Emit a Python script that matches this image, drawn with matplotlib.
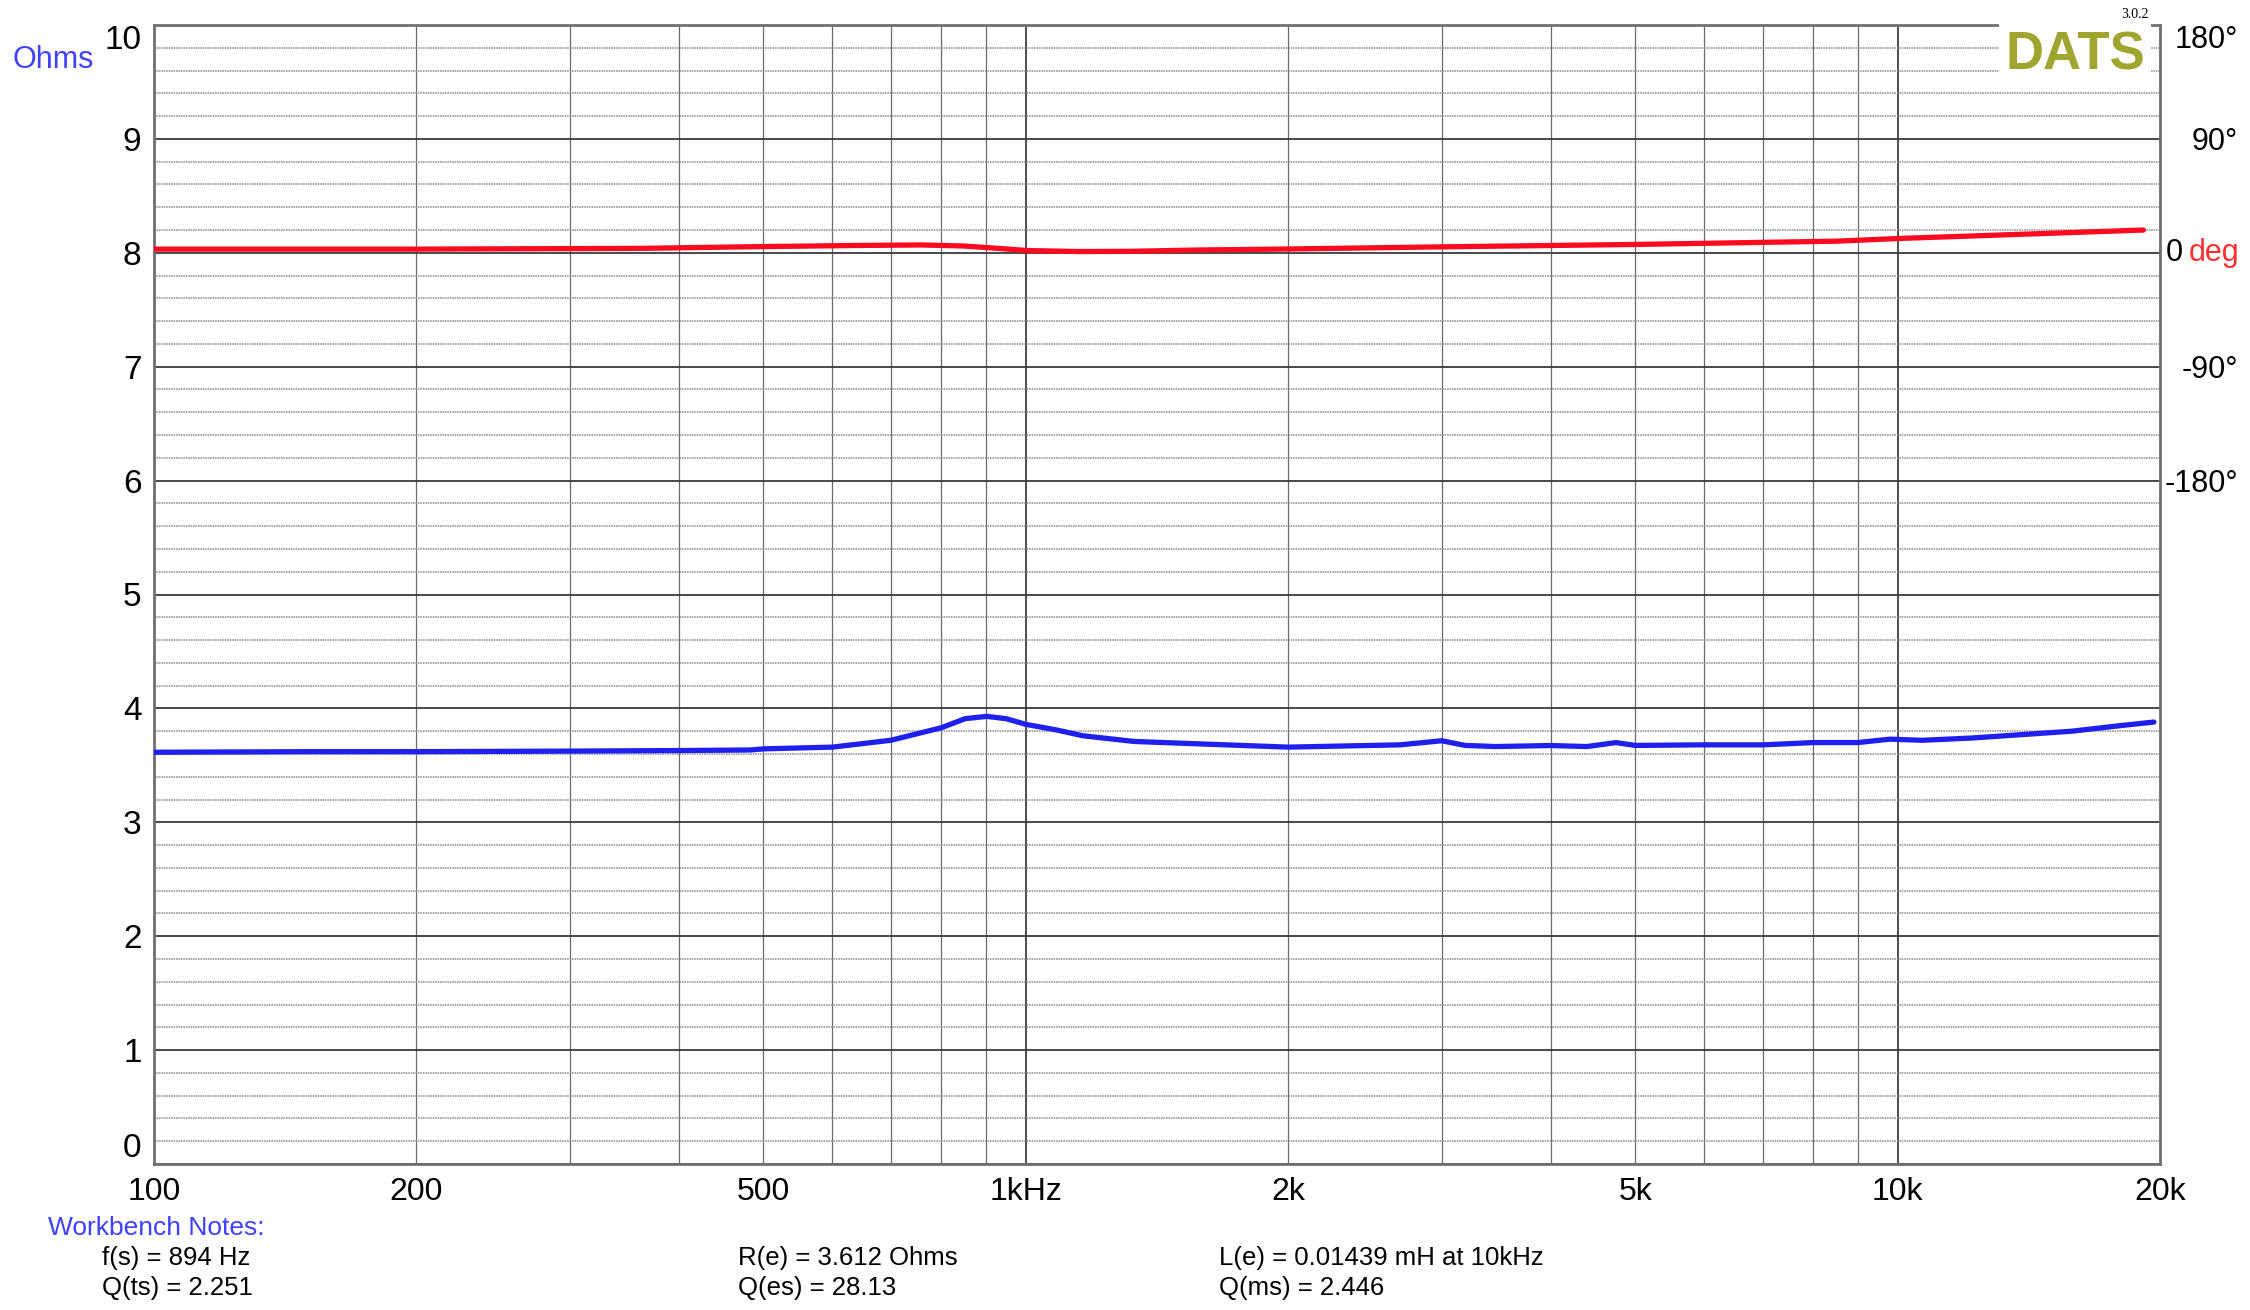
import numpy as np
import matplotlib
matplotlib.use("Agg")
import matplotlib.pyplot as plt
from matplotlib.ticker import FixedLocator, NullFormatter

plt.rcParams['font.family'] = ['Liberation Sans', 'DejaVu Sans']

# impedance magnitude (Ohms)
freq_z = [100, 150, 200, 300, 400, 483, 501, 600, 700, 800, 852, 902, 949, 1000,
          1086, 1162, 1330, 1626, 2000, 2687, 3000, 3190, 3460, 4000, 4400, 4754,
          5000, 5990, 7014, 8000, 9000, 9800, 10670, 12170, 13900, 15850, 18070, 19680]
ohms = [3.615, 3.62, 3.62, 3.625, 3.63, 3.635, 3.645, 3.66, 3.72, 3.83, 3.91, 3.93,
        3.91, 3.86, 3.81, 3.76, 3.71, 3.685, 3.66, 3.68, 3.716, 3.675, 3.665, 3.674,
        3.665, 3.70, 3.675, 3.68, 3.68, 3.70, 3.70, 3.73, 3.72, 3.74, 3.77, 3.80,
        3.85, 3.88]

# impedance phase (degrees)
freq_ph = [100, 200, 362, 486, 642, 759, 847, 912, 1003, 1150, 1323, 1576, 2000,
           3000, 5000, 8520, 10100, 14100, 19140]
phase = [2.9, 2.9, 3.5, 4.8, 5.8, 6.2, 5.4, 3.9, 1.8, 1.0, 1.2, 2.2, 3.0,
         4.7, 6.6, 9.2, 11.4, 14.8, 18.0]

x_major = [100, 200, 500, 1000, 2000, 5000, 10000, 20000]
x_labels = ['100', '200', '500', '1kHz', '2k', '5k', '10k', '20k']
x_grid = [100, 200, 300, 400, 500, 600, 700, 800, 900, 1000, 2000, 3000, 4000,
          5000, 6000, 7000, 8000, 9000, 10000, 20000]
y_labels = [str(i) for i in range(11)]
ph_ticks = [180, 90, -90, -180]
ph_labels = ['180°', '90°', '-90°', '-180°']

notes = [
    ("f(s) = 894 Hz", 102, 1258), ("Q(ts) = 2.251", 102, 1288),
    ("R(e) = 3.612 Ohms", 738, 1258), ("Q(es) = 28.13", 738, 1288),
    ("L(e) = 0.01439 mH at 10kHz", 1219, 1258), ("Q(ms) = 2.446", 1219, 1288),
]

W, H = 2250, 1310
fig = plt.figure(figsize=(22.5, 13.1), dpi=100)
ax = fig.add_axes([154 / W, 1 - 1164 / H, (2160 - 154) / W, (1164 - 25) / H])

ax.set_xscale('log')
ax.set_xlim(100, 20000)
ax.set_ylim(0, 10)

# grid
for f in x_grid:
    dark = f in (1000, 10000)
    ax.axvline(f, color='#404040' if dark else '#6a6a6a', lw=1.3 if dark else 0.9, zorder=1)
for v in np.arange(0, 10.01, 0.2):
    if abs(v - round(v)) < 1e-6:
        ax.axhline(v, color='#3a3a3a', lw=1.3, zorder=1)
    else:
        ax.axhline(v, color='#8a8a8a', lw=1.1, ls=(0, (1, 0.6)), zorder=1)

ax.plot(freq_z, ohms, color='#2020ee', lw=3.8, zorder=4, solid_capstyle='round')

ax.set_xticks(x_major)
ax.set_xticklabels(x_labels, fontsize=23)
ax.xaxis.set_minor_locator(FixedLocator(x_grid))
ax.xaxis.set_minor_formatter(NullFormatter())
ax.set_yticks(range(11))
ax.set_yticklabels(y_labels, fontsize=24)
ax.tick_params(axis='both', which='both', length=0)
ax.tick_params(axis='x', pad=9)
ax.tick_params(axis='y', pad=9)
ax.get_yticklabels()[0].set_va('bottom')
ax.get_yticklabels()[-1].set_va('top')

for s in ax.spines.values():
    s.set_color('#707070')
    s.set_linewidth(2)

# phase axis: 0 deg at 8 Ohms, 90 deg per Ohm
ax2 = ax.twinx()
ax2.set_ylim(-720, 180)
ax2.plot(freq_ph, phase, color='#ff0a1e', lw=3.8, zorder=4, solid_capstyle='round')
ax2.set_yticks(ph_ticks)
ax2.set_yticklabels(ph_labels, fontsize=22, ha='right')
ax2.tick_params(axis='y', length=0, pad=56)
ax2.get_yticklabels()[0].set_va('top')
for s in ax2.spines.values():
    s.set_visible(False)
ax2.annotate('0', xy=(1, 0), xycoords=('axes fraction', 'data'), xytext=(4, 0),
             textcoords='offset points', fontsize=22, va='center', ha='left')
ax2.annotate('deg', xy=(1, 0), xycoords=('axes fraction', 'data'), xytext=(21, 0),
             textcoords='offset points', fontsize=22, va='center', ha='left',
             color='#ff3030')

ax.text(0.9925, 0.9955, 'DATS', transform=ax.transAxes, ha='right', va='top',
        fontsize=38, fontweight='bold', color='#a0a530', zorder=5,
        bbox=dict(facecolor='white', edgecolor='none', pad=4))
fig.text(2135 / W, 1 - 14 / H, '3.0.2', ha='center', va='center', fontsize=10,
         family=['Liberation Serif', 'DejaVu Serif'])

fig.text(13 / W, 1 - 60 / H, 'Ohms', ha='left', va='center', fontsize=22, color='#4040ff')
fig.text(48 / W, 1 - 1228 / H, 'Workbench Notes:', ha='left', va='center',
         fontsize=19, color='#4040ff')
for txt, x, y in notes:
    fig.text(x / W, 1 - y / H, txt, ha='left', va='center', fontsize=18.5)

fig.savefig('out.png', dpi=100)
